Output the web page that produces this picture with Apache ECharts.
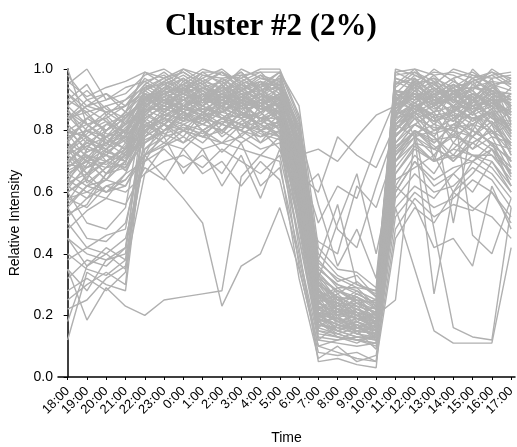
<!DOCTYPE html>
<html>
<head>
<meta charset="utf-8">
<script src="https://cdn.jsdelivr.net/npm/echarts@6/dist/echarts.min.js"></script>
<style>
  html, body { margin: 0; padding: 0; background: #fff; }
  #chart { width: 517px; height: 447px; }
</style>
</head>
<body>
<div id="chart"></div>
<script>
// time points, 18:00 through 17:00 next day
var hours = ['18:00', '19:00', '20:00', '21:00', '22:00', '23:00', '0:00', '1:00', '2:00', '3:00', '4:00', '5:00',
  '6:00', '7:00', '8:00', '9:00', '10:00', '11:00', '12:00', '13:00', '14:00', '15:00', '16:00', '17:00']

// main band: high at night and afternoon, low 7:00-10:00
var mainProfiles = [
  [0.72, 0.68, 0.70, 0.75, 0.88, 0.92, 0.95, 0.90, 0.97, 0.93, 0.88, 0.91, 0.62, 0.22, 0.18, 0.20, 0.15, 0.85, 0.93, 0.88, 0.95, 0.90, 0.97, 0.82],
  [0.85, 0.78, 0.74, 0.80, 0.93, 0.97, 0.99, 0.95, 0.92, 0.98, 0.94, 0.97, 0.70, 0.30, 0.25, 0.22, 0.19, 0.92, 0.98, 0.95, 0.91, 0.97, 0.93, 0.88],
  [0.65, 0.72, 0.66, 0.70, 0.82, 0.85, 0.88, 0.92, 0.86, 0.90, 0.83, 0.87, 0.58, 0.18, 0.22, 0.16, 0.14, 0.78, 0.86, 0.80, 0.84, 0.88, 0.82, 0.75],
  [0.78, 0.80, 0.83, 0.76, 0.90, 0.88, 0.93, 0.99, 0.95, 0.89, 0.96, 0.92, 0.74, 0.28, 0.20, 0.24, 0.21, 0.88, 0.95, 0.97, 0.90, 0.85, 0.94, 0.90],
  [0.92, 0.85, 0.80, 0.84, 0.95, 0.99, 0.94, 0.97, 1.00, 0.95, 0.91, 0.98, 0.80, 0.35, 0.30, 0.27, 0.24, 0.95, 1.00, 0.93, 0.97, 0.99, 0.95, 0.93],
  [0.60, 0.65, 0.70, 0.68, 0.78, 0.82, 0.86, 0.80, 0.84, 0.88, 0.80, 0.85, 0.55, 0.15, 0.14, 0.12, 0.13, 0.70, 0.80, 0.76, 0.82, 0.78, 0.85, 0.72],
  [0.70, 0.75, 0.78, 0.82, 0.86, 0.90, 0.84, 0.88, 0.92, 0.85, 0.90, 0.86, 0.66, 0.25, 0.17, 0.19, 0.16, 0.82, 0.89, 0.84, 0.78, 0.92, 0.88, 0.80],
  [0.98, 0.90, 0.86, 0.88, 0.97, 0.93, 1.00, 0.96, 0.94, 1.00, 0.97, 0.95, 0.82, 0.40, 0.33, 0.30, 0.27, 0.97, 0.94, 1.00, 0.96, 0.93, 1.00, 0.96],
  [0.55, 0.62, 0.60, 0.66, 0.80, 0.76, 0.82, 0.85, 0.78, 0.83, 0.86, 0.80, 0.50, 0.12, 0.11, 0.10, 0.11, 0.66, 0.75, 0.70, 0.74, 0.80, 0.76, 0.65],
  [0.75, 0.70, 0.72, 0.79, 0.91, 0.86, 0.90, 0.94, 0.89, 0.92, 0.87, 0.90, 0.68, 0.24, 0.27, 0.21, 0.18, 0.86, 0.91, 0.86, 0.92, 0.87, 0.90, 0.86],
  [0.82, 0.76, 0.80, 0.86, 0.94, 0.95, 0.92, 0.98, 0.96, 0.90, 0.95, 0.99, 0.77, 0.32, 0.24, 0.28, 0.22, 0.90, 0.96, 0.90, 0.86, 0.95, 0.91, 0.91],
  [0.68, 0.73, 0.76, 0.72, 0.84, 0.88, 0.91, 0.87, 0.90, 0.94, 0.89, 0.84, 0.60, 0.20, 0.19, 0.17, 0.15, 0.80, 0.87, 0.92, 0.88, 0.83, 0.87, 0.78],
  [0.88, 0.82, 0.77, 0.74, 0.89, 0.94, 0.97, 0.93, 0.88, 0.96, 0.99, 0.93, 0.72, 0.27, 0.22, 0.25, 0.20, 0.89, 0.97, 0.88, 0.94, 0.96, 0.89, 0.84],
  [0.63, 0.66, 0.74, 0.78, 0.76, 0.80, 0.85, 0.82, 0.80, 0.86, 0.84, 0.78, 0.52, 0.17, 0.16, 0.14, 0.12, 0.74, 0.82, 0.78, 0.70, 0.76, 0.80, 0.70],
  [0.77, 0.84, 0.88, 0.82, 0.92, 0.90, 0.87, 0.91, 0.97, 0.92, 0.93, 0.96, 0.76, 0.30, 0.26, 0.20, 0.23, 0.93, 0.90, 0.96, 0.93, 0.90, 0.96, 0.88],
  [0.95, 1.00, 0.90, 0.92, 0.98, 1.00, 0.96, 1.00, 0.98, 0.97, 1.00, 1.00, 0.85, 0.38, 0.31, 0.33, 0.26, 1.00, 0.98, 0.95, 1.00, 0.98, 0.97, 0.98],
  [0.58, 0.60, 0.64, 0.62, 0.74, 0.78, 0.80, 0.76, 0.82, 0.80, 0.78, 0.82, 0.48, 0.14, 0.13, 0.12, 0.10, 0.62, 0.72, 0.66, 0.76, 0.72, 0.70, 0.60],
  [0.73, 0.78, 0.70, 0.74, 0.87, 0.84, 0.88, 0.85, 0.86, 0.90, 0.92, 0.88, 0.64, 0.23, 0.21, 0.23, 0.17, 0.84, 0.88, 0.82, 0.88, 0.91, 0.84, 0.83],
  [0.80, 0.74, 0.82, 0.80, 0.90, 0.96, 0.93, 0.90, 0.93, 0.87, 0.88, 0.94, 0.73, 0.26, 0.28, 0.26, 0.20, 0.91, 0.86, 0.93, 0.97, 0.88, 0.93, 0.92],
  [0.67, 0.70, 0.68, 0.76, 0.85, 0.82, 0.89, 0.89, 0.91, 0.84, 0.86, 0.89, 0.63, 0.21, 0.15, 0.18, 0.14, 0.76, 0.84, 0.81, 0.80, 0.86, 0.78, 0.76],
  [0.90, 0.95, 0.85, 0.90, 0.96, 0.92, 0.95, 0.99, 0.99, 0.94, 0.96, 0.90, 0.78, 0.33, 0.28, 0.24, 0.25, 0.96, 0.93, 0.98, 0.92, 0.96, 0.99, 0.95],
  [0.62, 0.68, 0.72, 0.70, 0.79, 0.86, 0.83, 0.84, 0.79, 0.86, 0.81, 0.83, 0.57, 0.19, 0.23, 0.20, 0.16, 0.72, 0.78, 0.74, 0.79, 0.74, 0.82, 0.68],
  [0.86, 0.80, 0.76, 0.82, 0.93, 0.89, 0.96, 0.92, 0.87, 0.95, 0.91, 0.95, 0.79, 0.29, 0.19, 0.22, 0.19, 0.88, 0.92, 0.87, 0.91, 0.93, 0.86, 0.87],
  [0.71, 0.64, 0.78, 0.80, 0.88, 0.91, 0.86, 0.83, 0.88, 0.91, 0.94, 0.87, 0.67, 0.22, 0.26, 0.18, 0.21, 0.83, 0.90, 0.91, 0.85, 0.80, 0.91, 0.79],
  [0.76, 0.72, 0.66, 0.72, 0.81, 0.87, 0.90, 0.88, 0.85, 0.82, 0.85, 0.91, 0.61, 0.26, 0.18, 0.15, 0.17, 0.81, 0.85, 0.78, 0.87, 0.84, 0.79, 0.82],
  [0.94, 0.88, 0.92, 0.86, 0.99, 0.95, 0.98, 0.94, 0.96, 0.99, 0.93, 0.97, 0.83, 0.36, 0.29, 0.29, 0.23, 0.98, 0.99, 0.96, 0.89, 1.00, 0.94, 0.97],
  [0.52, 0.58, 0.62, 0.64, 0.72, 0.75, 0.78, 0.74, 0.76, 0.78, 0.74, 0.76, 0.45, 0.13, 0.12, 0.13, 0.12, 0.60, 0.70, 0.64, 0.68, 0.70, 0.66, 0.58],
  [0.84, 0.86, 0.79, 0.78, 0.91, 0.93, 0.91, 0.96, 0.90, 0.93, 0.98, 0.93, 0.75, 0.31, 0.23, 0.27, 0.24, 0.91, 0.94, 0.89, 0.95, 0.92, 0.88, 0.94],
  [0.69, 0.77, 0.75, 0.84, 0.89, 0.85, 0.84, 0.90, 0.92, 0.88, 0.90, 0.85, 0.65, 0.20, 0.24, 0.16, 0.18, 0.85, 0.88, 0.85, 0.83, 0.89, 0.92, 0.81],
  [0.79, 0.82, 0.84, 0.77, 0.86, 0.92, 0.94, 0.86, 0.89, 0.91, 0.86, 0.89, 0.70, 0.27, 0.20, 0.21, 0.15, 0.87, 0.91, 0.93, 0.90, 0.86, 0.89, 0.85],
  [1.00, 0.82, 0.78, 0.74, 0.86, 0.90, 0.92, 0.90, 0.94, 0.90, 0.88, 0.92, 0.74, 0.30, 0.22, 0.20, 0.18, 0.88, 0.92, 0.90, 0.92, 0.90, 0.94, 0.90],
  [0.83, 0.88, 0.90, 0.94, 0.96, 0.98, 0.93, 0.96, 0.99, 0.96, 0.94, 0.99, 0.84, 0.34, 0.27, 0.31, 0.26, 0.99, 0.96, 0.99, 0.98, 0.95, 0.98, 0.99],
  [0.61, 0.69, 0.80, 0.86, 0.83, 0.79, 0.81, 0.79, 0.83, 0.81, 0.83, 0.81, 0.59, 0.16, 0.21, 0.19, 0.18, 0.79, 0.82, 0.79, 0.81, 0.82, 0.80, 0.73],
  [0.77, 0.63, 0.68, 0.69, 0.94, 0.97, 0.92, 0.89, 0.95, 0.99, 0.92, 0.88, 0.69, 0.29, 0.21, 0.26, 0.22, 0.84, 0.97, 0.91, 0.96, 0.93, 0.87, 0.92],
  [0.70, 0.76, 0.74, 0.81, 0.87, 0.93, 0.97, 0.91, 0.93, 0.95, 0.98, 0.96, 0.81, 0.37, 0.32, 0.29, 0.28, 0.94, 0.99, 0.94, 0.90, 0.96, 0.98, 0.94],
  [0.88, 0.93, 0.87, 0.84, 0.91, 0.87, 0.90, 0.93, 0.87, 0.85, 0.89, 0.91, 0.66, 0.23, 0.19, 0.18, 0.16, 0.86, 0.93, 0.96, 0.87, 0.92, 0.90, 0.89],
  [0.66, 0.62, 0.64, 0.73, 0.83, 0.89, 0.87, 0.92, 0.89, 0.87, 0.91, 0.90, 0.71, 0.27, 0.23, 0.24, 0.19, 0.89, 0.87, 0.83, 0.93, 0.86, 0.91, 0.85],
  [0.74, 0.79, 0.85, 0.79, 0.88, 0.94, 0.90, 0.86, 0.91, 0.89, 0.87, 0.89, 0.68, 0.21, 0.18, 0.20, 0.17, 0.80, 0.89, 0.85, 0.86, 0.90, 0.93, 0.83],
  [0.96, 0.91, 0.94, 0.96, 0.99, 0.97, 1.00, 0.98, 0.97, 0.98, 0.99, 0.99, 0.88, 0.42, 0.35, 0.34, 0.29, 0.99, 1.00, 0.98, 0.99, 0.97, 0.99, 0.97],
  [0.57, 0.66, 0.70, 0.68, 0.81, 0.84, 0.80, 0.82, 0.86, 0.84, 0.80, 0.83, 0.60, 0.19, 0.17, 0.16, 0.14, 0.73, 0.80, 0.77, 0.78, 0.82, 0.75, 0.71],
  [0.81, 0.73, 0.76, 0.83, 0.90, 0.92, 0.95, 0.93, 0.90, 0.93, 0.96, 0.94, 0.72, 0.26, 0.24, 0.23, 0.21, 0.92, 0.89, 0.92, 0.95, 0.91, 0.95, 0.87],
  [0.72, 0.81, 0.86, 0.88, 0.93, 0.96, 0.88, 0.90, 0.88, 0.91, 0.89, 0.92, 0.73, 0.31, 0.26, 0.25, 0.20, 0.87, 0.94, 0.89, 0.83, 0.88, 0.85, 0.88],
  [0.64, 0.71, 0.69, 0.73, 0.80, 0.83, 0.87, 0.85, 0.92, 0.90, 0.87, 0.86, 0.63, 0.22, 0.20, 0.22, 0.18, 0.78, 0.85, 0.88, 0.91, 0.85, 0.88, 0.79],
  [0.87, 0.77, 0.73, 0.77, 0.85, 0.91, 0.93, 0.97, 0.93, 0.97, 0.93, 0.94, 0.77, 0.33, 0.25, 0.26, 0.23, 0.93, 0.92, 0.88, 0.92, 0.97, 0.92, 0.92],
  [0.76, 0.84, 0.80, 0.86, 0.92, 0.89, 0.92, 0.88, 0.95, 0.88, 0.92, 0.87, 0.65, 0.24, 0.21, 0.19, 0.17, 0.85, 0.89, 0.94, 0.89, 0.92, 0.89, 0.86],
  [0.69, 0.68, 0.73, 0.71, 0.87, 0.87, 0.85, 0.87, 0.86, 0.89, 0.84, 0.88, 0.62, 0.20, 0.16, 0.18, 0.15, 0.82, 0.86, 0.83, 0.85, 0.84, 0.86, 0.77],
  [0.92, 0.87, 0.83, 0.79, 0.90, 0.96, 0.99, 0.95, 0.99, 0.93, 0.97, 0.96, 0.79, 0.32, 0.28, 0.25, 0.24, 0.95, 0.97, 0.92, 0.93, 0.94, 0.96, 0.95],
  [0.53, 0.56, 0.66, 0.74, 0.82, 0.79, 0.76, 0.80, 0.73, 0.79, 0.82, 0.78, 0.54, 0.17, 0.15, 0.13, 0.13, 0.68, 0.76, 0.74, 0.71, 0.76, 0.72, 0.67],
  [0.79, 0.71, 0.78, 0.85, 0.89, 0.93, 0.88, 0.94, 0.91, 0.93, 0.90, 0.91, 0.75, 0.28, 0.22, 0.21, 0.19, 0.90, 0.88, 0.91, 0.88, 0.87, 0.90, 0.90],
  [0.84, 0.90, 0.92, 0.88, 0.95, 0.91, 0.97, 0.93, 0.96, 0.91, 0.95, 0.95, 0.80, 0.35, 0.30, 0.28, 0.25, 0.97, 0.95, 0.97, 0.94, 0.98, 0.95, 0.96],
  [0.63, 0.74, 0.72, 0.67, 0.77, 0.80, 0.83, 0.88, 0.84, 0.85, 0.82, 0.79, 0.56, 0.18, 0.19, 0.15, 0.14, 0.75, 0.79, 0.82, 0.80, 0.78, 0.83, 0.74],
  [0.58, 0.55, 0.62, 0.60, 0.66, 0.70, 0.72, 0.68, 0.74, 0.70, 0.66, 0.72, 0.45, 0.16, 0.14, 0.12, 0.11, 0.58, 0.66, 0.60, 0.62, 0.68, 0.64, 0.55],
  [0.64, 0.60, 0.58, 0.66, 0.70, 0.74, 0.68, 0.72, 0.66, 0.76, 0.62, 0.68, 0.40, 0.12, 0.17, 0.14, 0.13, 0.55, 0.62, 0.58, 0.66, 0.60, 0.70, 0.62],
  [0.48, 0.54, 0.58, 0.56, 0.68, 0.64, 0.74, 0.66, 0.70, 0.62, 0.70, 0.64, 0.38, 0.10, 0.12, 0.15, 0.09, 0.52, 0.60, 0.55, 0.58, 0.64, 0.60, 0.50],
  [0.74, 0.66, 0.60, 0.64, 0.72, 0.78, 0.66, 0.74, 0.62, 0.72, 0.58, 0.74, 0.50, 0.18, 0.13, 0.11, 0.14, 0.64, 0.68, 0.72, 0.60, 0.66, 0.74, 0.66],
  [0.66, 0.70, 0.64, 0.70, 0.78, 0.82, 0.80, 0.78, 0.84, 0.82, 0.78, 0.80, 0.42, 0.05, 0.06, 0.04, 0.03, 0.66, 0.74, 0.70, 0.72, 0.70, 0.74, 0.62],
  [0.72, 0.66, 0.70, 0.74, 0.84, 0.80, 0.86, 0.82, 0.80, 0.86, 0.82, 0.78, 0.36, 0.08, 0.07, 0.08, 0.05, 0.60, 0.70, 0.62, 0.66, 0.72, 0.68, 0.60],
  [0.60, 0.64, 0.60, 0.62, 0.72, 0.76, 0.74, 0.80, 0.76, 0.74, 0.72, 0.70, 0.32, 0.06, 0.10, 0.05, 0.07, 0.48, 0.58, 0.52, 0.56, 0.54, 0.60, 0.52]
]

// low in the evening, jump up at 22:00
var eveningLowProfiles = [
  [0.40, 0.35, 0.33, 0.38, 0.78, 0.85, 0.88, 0.84, 0.90, 0.86, 0.82, 0.88, 0.60, 0.20, 0.17, 0.15, 0.14, 0.80, 0.88, 0.83, 0.86, 0.82, 0.87, 0.78],
  [0.32, 0.38, 0.36, 0.42, 0.85, 0.90, 0.83, 0.92, 0.86, 0.91, 0.88, 0.83, 0.64, 0.24, 0.22, 0.19, 0.18, 0.86, 0.92, 0.88, 0.80, 0.90, 0.84, 0.82],
  [0.50, 0.42, 0.40, 0.45, 0.70, 0.80, 0.86, 0.80, 0.84, 0.80, 0.86, 0.80, 0.56, 0.17, 0.15, 0.17, 0.12, 0.74, 0.80, 0.74, 0.78, 0.76, 0.80, 0.70],
  [0.25, 0.30, 0.34, 0.30, 0.88, 0.92, 0.95, 0.90, 0.93, 0.96, 0.90, 0.94, 0.72, 0.28, 0.25, 0.22, 0.20, 0.90, 0.95, 0.91, 0.94, 0.89, 0.95, 0.86],
  [0.45, 0.36, 0.40, 0.35, 0.66, 0.75, 0.80, 0.78, 0.76, 0.82, 0.79, 0.77, 0.52, 0.15, 0.13, 0.12, 0.11, 0.70, 0.76, 0.70, 0.74, 0.72, 0.72, 0.64],
  [0.12, 0.34, 0.30, 0.28, 0.80, 0.86, 0.90, 0.88, 0.92, 0.88, 0.92, 0.89, 0.66, 0.23, 0.18, 0.20, 0.16, 0.84, 0.86, 0.89, 0.90, 0.88, 0.90, 0.80],
  [0.35, 0.28, 0.38, 0.40, 0.92, 0.88, 0.92, 0.95, 0.88, 0.93, 0.95, 0.91, 0.70, 0.26, 0.29, 0.24, 0.22, 0.92, 0.90, 0.94, 0.88, 0.94, 0.92, 0.89],
  [0.55, 0.45, 0.44, 0.50, 0.76, 0.82, 0.78, 0.86, 0.80, 0.84, 0.76, 0.84, 0.58, 0.19, 0.16, 0.18, 0.15, 0.78, 0.84, 0.76, 0.82, 0.80, 0.76, 0.74],
  [0.22, 0.25, 0.32, 0.36, 0.74, 0.80, 0.84, 0.82, 0.88, 0.78, 0.84, 0.86, 0.62, 0.21, 0.20, 0.14, 0.17, 0.76, 0.82, 0.86, 0.76, 0.84, 0.83, 0.76],
  [0.38, 0.42, 0.46, 0.48, 0.82, 0.78, 0.88, 0.86, 0.82, 0.90, 0.80, 0.82, 0.54, 0.18, 0.14, 0.16, 0.13, 0.82, 0.78, 0.80, 0.84, 0.78, 0.86, 0.72],
  [0.28, 0.32, 0.28, 0.34, 0.86, 0.90, 0.86, 0.90, 0.95, 0.86, 0.93, 0.90, 0.68, 0.25, 0.24, 0.20, 0.19, 0.87, 0.93, 0.86, 0.93, 0.90, 0.88, 0.84],
  [0.60, 0.50, 0.48, 0.55, 0.90, 0.95, 0.92, 0.94, 0.91, 0.95, 0.92, 0.95, 0.74, 0.30, 0.26, 0.23, 0.21, 0.93, 0.91, 0.95, 0.90, 0.94, 0.93, 0.90],
  [0.18, 0.36, 0.42, 0.38, 0.72, 0.84, 0.80, 0.86, 0.84, 0.80, 0.88, 0.84, 0.60, 0.22, 0.18, 0.17, 0.15, 0.78, 0.86, 0.80, 0.82, 0.86, 0.80, 0.76]
]

// stay fairly high through 7:00-10:00
var morningHighProfiles = [
  [0.70, 0.75, 0.72, 0.78, 0.86, 0.90, 0.88, 0.92, 0.86, 0.90, 0.88, 0.92, 0.72, 0.74, 0.70, 0.78, 0.85, 0.88, 0.95, 0.90, 0.92, 0.88, 0.90, 0.85],
  [0.66, 0.70, 0.74, 0.70, 0.80, 0.84, 0.90, 0.86, 0.88, 0.84, 0.90, 0.86, 0.66, 0.60, 0.78, 0.72, 0.68, 0.82, 0.88, 0.84, 0.86, 0.90, 0.84, 0.80],
  [0.80, 0.78, 0.82, 0.85, 0.90, 0.94, 0.92, 0.88, 0.94, 0.92, 0.86, 0.90, 0.70, 0.50, 0.62, 0.58, 0.75, 0.90, 0.92, 0.88, 0.94, 0.86, 0.92, 0.88],
  [0.62, 0.58, 0.66, 0.68, 0.76, 0.80, 0.82, 0.78, 0.80, 0.76, 0.80, 0.74, 0.58, 0.44, 0.40, 0.62, 0.55, 0.74, 0.82, 0.78, 0.72, 0.80, 0.76, 0.70],
  [0.74, 0.80, 0.76, 0.80, 0.84, 0.88, 0.86, 0.90, 0.90, 0.86, 0.84, 0.84, 0.64, 0.38, 0.56, 0.30, 0.28, 0.86, 0.84, 0.86, 0.88, 0.84, 0.86, 0.80],
  [0.84, 0.88, 0.86, 0.82, 0.92, 0.86, 0.94, 0.90, 0.84, 0.88, 0.92, 0.82, 0.60, 0.66, 0.48, 0.42, 0.62, 0.80, 0.86, 0.92, 0.84, 0.90, 0.82, 0.86],
  [0.56, 0.62, 0.68, 0.72, 0.78, 0.82, 0.76, 0.84, 0.82, 0.80, 0.76, 0.80, 0.55, 0.32, 0.50, 0.66, 0.40, 0.70, 0.78, 0.72, 0.80, 0.74, 0.78, 0.66],
  [0.90, 0.86, 0.88, 0.90, 0.94, 0.90, 0.90, 0.94, 0.92, 0.94, 0.90, 0.88, 0.80, 0.56, 0.36, 0.48, 0.32, 0.92, 0.88, 0.90, 0.86, 0.92, 0.88, 0.92]
]

// odd ones: low night stretch, dips in the afternoon
var oddProfiles = [
  [0.35, 0.185, 0.29, 0.23, 0.20, 0.25, 0.26, 0.27, 0.28, 0.65, 0.72, 0.78, 0.55, 0.18, 0.15, 0.13, 0.12, 0.72, 0.80, 0.75, 0.70, 0.78, 0.74, 0.68],
  [0.45, 0.40, 0.38, 0.42, 0.72, 0.65, 0.58, 0.50, 0.23, 0.36, 0.40, 0.55, 0.35, 0.10, 0.08, 0.06, 0.05, 0.45, 0.55, 0.50, 0.60, 0.55, 0.52, 0.45],
  [0.68, 0.72, 0.70, 0.74, 0.80, 0.84, 0.82, 0.80, 0.84, 0.82, 0.80, 0.78, 0.55, 0.20, 0.17, 0.15, 0.14, 0.55, 0.35, 0.15, 0.11, 0.11, 0.11, 0.42],
  [0.74, 0.70, 0.76, 0.78, 0.86, 0.82, 0.88, 0.84, 0.82, 0.88, 0.84, 0.82, 0.60, 0.19, 0.15, 0.17, 0.13, 0.72, 0.80, 0.48, 0.16, 0.13, 0.12, 0.55],
  [0.80, 0.84, 0.80, 0.84, 0.90, 0.92, 0.88, 0.92, 0.90, 0.88, 0.92, 0.90, 0.70, 0.26, 0.22, 0.20, 0.18, 0.90, 0.78, 0.27, 0.60, 0.70, 0.76, 0.62],
  [0.72, 0.76, 0.74, 0.70, 0.84, 0.88, 0.86, 0.84, 0.88, 0.86, 0.82, 0.86, 0.62, 0.21, 0.19, 0.16, 0.15, 0.62, 0.56, 0.42, 0.45, 0.36, 0.62, 0.48],
  [0.86, 0.82, 0.84, 0.88, 0.92, 0.90, 0.94, 0.88, 0.92, 0.90, 0.88, 0.92, 0.76, 0.28, 0.24, 0.21, 0.20, 0.25, 0.78, 0.85, 0.50, 0.82, 0.86, 0.75],
  [0.78, 0.80, 0.78, 0.82, 0.88, 0.86, 0.90, 0.92, 0.86, 0.92, 0.88, 0.86, 0.66, 0.24, 0.20, 0.19, 0.16, 0.84, 0.96, 0.70, 0.88, 0.46, 0.40, 0.58]
]

var profiles = mainProfiles.concat(eveningLowProfiles, morningHighProfiles, oddProfiles)

var chart = echarts.init(document.getElementById('chart'), null, { renderer: 'canvas' })

var series = profiles.map(function (p) {
  return {
    type: 'line',
    data: p.map(function (v, i) { return [i, v] }),
    symbol: 'none',
    silent: true,
    lineStyle: { color: '#b0b0b0', width: 1.4 }
  }
})

var hourIdx = hours.map(function (h, i) { return i })

chart.setOption({
  animation: false,
  title: {
    text: 'Cluster #2 (2%)',
    left: 160,
    top: 6,
    textStyle: { fontFamily: 'Liberation Serif', fontWeight: 'bold', fontSize: 31, color: '#000' }
  },
  grid: { left: 58, right: 2, top: 69, bottom: 70, outerBoundsMode: 'none' },
  xAxis: {
    type: 'value',
    min: -0.5,
    max: 23.2,
    name: 'Time',
    nameLocation: 'middle',
    nameGap: 54,
    nameTextStyle: { fontFamily: 'Liberation Sans', fontSize: 14, color: '#000' },
    splitLine: { show: false },
    axisLine: { show: true, onZero: false, lineStyle: { color: '#000', width: 1.5 } },
    axisTick: { show: true, customValues: hourIdx, length: 3, lineStyle: { color: '#000' } },
    axisLabel: {
      customValues: hourIdx,
      rotate: 45,
      fontFamily: 'Liberation Sans',
      fontSize: 13,
      color: '#000',
      margin: 12,
      showMinLabel: true,
      showMaxLabel: true,
      hideOverlap: false,
      formatter: function (v) { return hours[Math.round(v)] }
    }
  },
  yAxis: {
    type: 'value',
    min: 0,
    max: 1,
    interval: 0.2,
    name: 'Relative Intensity',
    nameLocation: 'middle',
    nameGap: 36,
    nameTextStyle: { fontFamily: 'Liberation Sans', fontSize: 14, color: '#000' },
    splitLine: { show: false },
    axisLine: { show: true, lineStyle: { color: '#000', width: 1.5 } },
    axisTick: { show: true, length: 4, lineStyle: { color: '#000' } },
    axisLabel: {
      fontFamily: 'Liberation Sans',
      fontSize: 14,
      color: '#000',
      margin: 5,
      formatter: function (v) { return v.toFixed(1) }
    }
  },
  series: series
})
</script>
</body>
</html>
